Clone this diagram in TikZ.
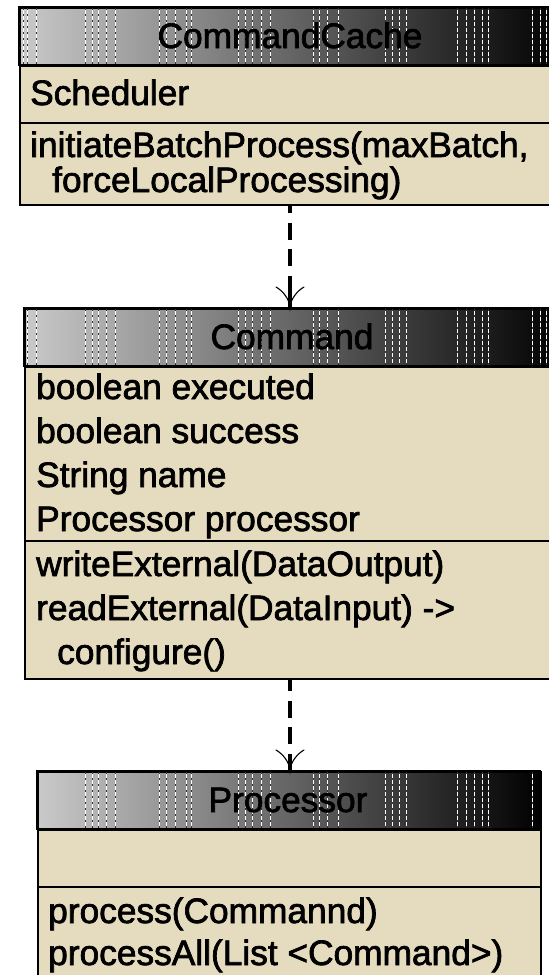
\documentclass[tikz,border=0pt]{standalone}
\usepackage{fontspec}
\setmainfont{Liberation Sans}
\newfontfamily\umlfont[FakeBold=2]{Liberation Sans}
\usetikzlibrary{arrows.meta}
\definecolor{umlbg}{RGB}{229,219,190}
\pgfdeclarearrow{
  name=UMLopen,
  setup code={
    \pgfarrowssettipend{0pt}
    \pgfarrowssetlineend{-15pt}
    \pgfarrowssetvisualbackend{-22pt}
    \pgfarrowssetbackend{-22pt}
    \pgfarrowshullpoint{0pt}{0pt}
    \pgfarrowshullpoint{-22pt}{14pt}
    \pgfarrowshullpoint{-22pt}{-14pt}
  },
  drawing code={
    \pgfsetdash{}{0pt}
    \pgfsetbuttcap
    \pgfsetlinewidth{4pt}
    \pgfpathmoveto{\pgfpoint{-16pt}{0pt}}
    \pgfpathlineto{\pgfpoint{0pt}{0pt}}
    \pgfusepathqstroke
    \pgfsetroundcap
    \pgfsetlinewidth{1.1pt}
    \pgfpathmoveto{\pgfpoint{-21pt}{14pt}}
    \pgfpathcurveto{\pgfpoint{-17pt}{7pt}}{\pgfpoint{-9pt}{0.5pt}}{\pgfpoint{0pt}{0pt}}
    \pgfpathcurveto{\pgfpoint{-9pt}{-0.5pt}}{\pgfpoint{-17pt}{-7pt}}{\pgfpoint{-21pt}{-14pt}}
    \pgfusepathqstroke
  }
}
\newcommand{\hdrlines}[2]{%
  \foreach \hx in {23,27,36,85,92,98,106,115,159,166,175,186,191,238,245,252,261,270,313,319,327,338,385,392,399,406,457,466,474,482,488,532,540,546}{
    \draw[black!80, line width=0.6pt, dash pattern=on 2pt off 4pt] (\hx,#1) -- (\hx,#2);
    \draw[white, line width=0.6pt, dash pattern=on 4pt off 2pt, dash phase=4pt] (\hx,#1) -- (\hx,#2);
  }}
\begin{document}
\begin{tikzpicture}[x=1pt,y=-1pt,
  classbox/.style={draw=black, line width=1.5pt, fill=umlbg, rectangle, inner sep=0pt, anchor=north west},
  headbox/.style={draw=black, line width=1.5pt, left color=gray!42, right color=black, rectangle, inner sep=0pt, anchor=north west},
  member/.style={font=\umlfont\fontsize{35.3}{40}\selectfont, inner sep=0pt, anchor=base west},
  ctitle/.style={font=\umlfont\fontsize{35.3}{40}\selectfont, inner sep=0pt, anchor=base},
  divider/.style={draw=black, line width=1.5pt},
  dep/.style={line width=4pt, dash pattern=on 17pt off 9.5pt, -UMLopen},
]
\useasboundingbox (0,0) rectangle (549,975);
\begin{scope}
\clip (0,0) rectangle (549,975);

% CommandCache
\node[classbox, minimum width=543pt, minimum height=197pt] (cache) at (19,7) {};
\node[headbox, minimum width=543pt, minimum height=58pt] (cachehead) at (19,7) {};
\begin{scope}
  \clip (19,8) rectangle (562,64);
  \hdrlines{8}{64}
\end{scope}
\draw[black, line width=1.5pt] (cache.north west) rectangle (562,65);
\draw[divider] (19,123) -- (562,123);
\node[ctitle] (cachetitle) at (290,48) {CommandCache};
\node[member] (cacheattr) at (30,105) {Scheduler};
\node[member] (cachem1) at (30,157) {initiateBatchProcess(maxBatch,};
\node[member] (cachem2) at (52,192) {forceLocalProcessing)};

% Command
\node[classbox, minimum width=538pt, minimum height=370pt] (cmd) at (24,308) {};
\node[headbox, minimum width=538pt, minimum height=58pt] (cmdhead) at (24,308) {};
\begin{scope}
  \clip (24,309) rectangle (562,365);
  \hdrlines{309}{365}
\end{scope}
\draw[black, line width=1.5pt] (cmd.north west) rectangle (562,366);
\draw[divider] (24,541) -- (562,541);
\node[ctitle] (cmdtitle) at (292,349) {Command};
\node[member] (cmda1) at (36,399) {boolean executed};
\node[member] (cmda2) at (36,443) {boolean success};
\node[member] (cmda3) at (36,487) {String name};
\node[member] (cmda4) at (36,531) {Processor processor};
\node[member] (cmdm1) at (36,576) {writeExternal(DataOutput)};
\node[member] (cmdm2) at (36,620) {readExternal(DataInput) ->};
\node[member] (cmdm3) at (57,664) {configure()};

% Processor
\node[classbox, minimum width=503pt, minimum height=230pt] (proc) at (37,771) {};
\node[headbox, minimum width=503pt, minimum height=58pt] (prochead) at (37,771) {};
\begin{scope}
  \clip (37,772) rectangle (540,828);
  \hdrlines{772}{828}
\end{scope}
\draw[black, line width=1.5pt] (proc.north west) rectangle (540,829);
\draw[divider] (37,887) -- (540,887);
\node[ctitle] (proctitle) at (288,812) {Processor};
\node[member] (procm1) at (48,923) {process(Commannd)};
\node[member] (procm2) at (48,965) {processAll(List <Command>)};

% dependencies
\coordinate (cachebot) at (290,204);
\coordinate (cmdtop) at (290,308);
\coordinate (cmdbot) at (290,678);
\coordinate (proctop) at (290,771);
\draw[dep, dash phase=8pt] (cachebot) -- (cmdtop);
\draw[dep, dash phase=4pt] (cmdbot) -- (proctop);
\end{scope}
\end{tikzpicture}
\end{document}
